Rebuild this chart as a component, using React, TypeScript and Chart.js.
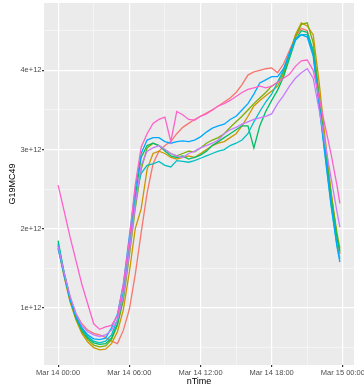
import { useEffect, useRef } from "react";
import { Chart, registerables } from "chart.js";
Chart.register(...registerables);

// time of day in hours since Mar 14 00:00
const hours = [0,0.5,1,1.5,2,2.5,3,3.5,4,4.5,5,5.5,6,6.5,7,7.5,8,8.5,9,9.5,10,10.5,11,11.5,12,12.5,13,13.5,14,14.5,15,15.5,16,16.5,17,17.5,18,18.5,19,19.5,20,20.5,21,21.5,22,22.5,23,23.5,23.75];

// values in units of 1e12
const s1 = [1.78,1.45,1.15,0.93,0.80,0.72,0.68,0.66,0.63,0.58,0.55, 0.72,0.98,1.42,1.95,2.45,2.82, 2.98,3.05,3.10,3.20,3.28,3.33,3.38,3.42, 3.46,3.50,3.55,3.60,3.65,3.72,3.82,3.94,3.98,4.00,4.02,4.03, 3.97,4.08,4.25,4.42,4.53,4.50,4.22,3.62,3.02,2.42,1.90,1.68];
const s2 = [1.76,1.40,1.08,0.85,0.68,0.57,0.50,0.47,0.48,0.55,0.70, 0.98,1.45,2.00,2.25,2.75,2.95, 2.98,2.95,2.90,2.88,2.90,2.92,2.90,2.95, 3.00,3.05,3.08,3.10,3.15,3.20,3.30,3.42,3.55,3.62,3.68,3.74, 3.80,3.95,4.20,4.45,4.60,4.56,4.45,3.85,3.15,2.48,1.90,1.70];
const s3 = [1.80,1.42,1.10,0.87,0.70,0.60,0.53,0.51,0.52,0.60,0.78, 1.10,1.65,2.25,2.75,3.02,3.08, 3.05,3.00,2.95,2.92,2.95,2.98,2.97,3.02, 3.08,3.12,3.15,3.20,3.28,3.35,3.42,3.50,3.58,3.65,3.72,3.80, 3.85,3.98,4.20,4.42,4.58,4.60,4.35,3.70,3.05,2.45,1.95,1.75];
const s4 = [1.85,1.45,1.12,0.88,0.72,0.62,0.56,0.54,0.55,0.62,0.80, 1.15,1.75,2.40,2.90,3.05,3.08, 3.05,2.98,2.92,2.90,2.92,2.88,2.90,2.93, 2.98,3.05,3.10,3.15,3.20,3.25,3.30,3.30,3.02,3.30,3.48,3.62, 3.75,3.92,4.15,4.38,4.50,4.48,4.25,3.62,3.00,2.38,1.88,1.72];
const s5 = [1.82,1.44,1.12,0.90,0.74,0.64,0.58,0.56,0.58,0.66,0.85, 1.20,1.80,2.40,2.70,2.80,2.82, 2.85,2.80,2.78,2.86,2.85,2.84,2.86,2.89, 2.92,2.95,2.98,3.00,3.05,3.08,3.12,3.20,3.35,3.48,3.60,3.70, 3.85,4.00,4.20,4.38,4.45,4.45,4.22,3.58,2.95,2.32,1.80,1.62];
const s6 = [1.75,1.42,1.12,0.90,0.75,0.66,0.61,0.60,0.62,0.75,0.92, 1.30,1.90,2.50,2.95,3.12,3.15, 3.15,3.10,3.08,3.10,3.11,3.10,3.12,3.16, 3.22,3.27,3.30,3.32,3.38,3.42,3.50,3.58,3.70,3.84,3.88,3.92, 3.92,4.02,4.22,4.40,4.45,4.42,4.18,3.55,2.92,2.30,1.78,1.58];
const s7 = [1.78,1.45,1.15,0.93,0.78,0.70,0.66,0.64,0.66,0.72,0.85, 1.15,1.70,2.30,2.80,2.98,3.02, 3.05,3.00,2.95,2.92,2.90,2.95,2.98,3.02, 3.05,3.08,3.12,3.20,3.25,3.28,3.32,3.35,3.38,3.40,3.42,3.45, 3.58,3.68,3.80,3.90,3.97,4.02,3.90,3.50,3.08,2.65,2.22,2.02];
const s8 = [2.55,2.23,1.90,1.60,1.30,1.05,0.80,0.73,0.76,0.78,0.90, 1.30,1.85,2.55,3.03,3.20,3.33, 3.38,3.41,3.10,3.48,3.44,3.38,3.37,3.42, 3.45,3.50,3.55,3.58,3.62,3.67,3.72,3.76,3.78,3.80,3.78,3.80, 3.85,3.90,3.95,4.05,4.12,4.13,4.00,3.65,3.30,2.95,2.55,2.32];

const seriesValues = [s1, s2, s3, s4, s5, s6, s7, s8];
const seriesColors = ["#F8766D", "#CD9600", "#7CAE00", "#00BE67", "#00BFC4", "#00A9FF", "#C77CFF", "#FF61CC"];

const xGridHours = [0, 3, 6, 9, 12, 15, 18, 21, 24];
const xTickHours = [0, 6, 12, 18, 24];
const xTickLabels = ["Mar 14 00:00", "Mar 14 06:00", "Mar 14 12:00", "Mar 14 18:00", "Mar 15 00:00"];
const yGridValues = [0.5, 1, 1.5, 2, 2.5, 3, 3.5, 4, 4.5];
const yTickValues = [1, 2, 3, 4];
const yTickLabels = ["1e+12", "2e+12", "3e+12", "4e+12"];

const FONT = "'Liberation Sans', Arial, sans-serif";

const panelBg = {
  id: "panelBg",
  beforeDraw(chart: any) {
    const { ctx, chartArea } = chart;
    ctx.save();
    ctx.fillStyle = "#EBEBEB";
    ctx.fillRect(chartArea.left, chartArea.top, chartArea.right - chartArea.left, chartArea.bottom - chartArea.top);
    ctx.restore();
  },
};

export default function App() {
  const ref = useRef<HTMLCanvasElement>(null);
  useEffect(() => {
    document.body.style.margin = "0";
    const datasets = seriesValues
      .map((vals, i) => ({
        data: hours.map((h, j) => ({ x: h, y: vals[j] })),
        borderColor: seriesColors[i],
        borderWidth: 1.3,
        pointRadius: 0,
        fill: false,
        tension: 0,
      }))
      .reverse();
    const isMajorX = (v: number) => xTickHours.includes(v);
    const isMajorY = (v: number) => yTickValues.includes(v);
    const chart = new Chart(ref.current!, {
      type: "line",
      data: { datasets },
      plugins: [panelBg],
      options: {
        animation: false,
        responsive: false,
        devicePixelRatio: 1,
        layout: { padding: { top: 3, right: 10, left: 0, bottom: 0 } },
        plugins: { legend: { display: false }, tooltip: { enabled: false } },
        scales: {
          x: {
            type: "linear",
            min: -1.19,
            max: 24.94,
            afterBuildTicks: (s: any) => { s.ticks = xGridHours.map((v) => ({ value: v })); },
            afterFit: (s: any) => { s.height = 24; s.paddingLeft = 0; s.paddingRight = 0; },
            border: { display: false },
            grid: {
              color: (c: any) => (isMajorX(c.tick?.value) ? "#FFFFFF" : "rgba(255,255,255,0.75)"),
              lineWidth: (c: any) => (isMajorX(c.tick?.value) ? 1.2 : 0.6),
              tickColor: (c: any) => (isMajorX(c.tick?.value) ? "#333333" : "rgba(0,0,0,0)"),
              tickLength: 2,
              drawTicks: true,
            },
            ticks: {
              autoSkip: false,
              maxRotation: 0,
              minRotation: 0,
              padding: 1,
              color: "#4D4D4D",
              font: { family: FONT, size: 7.5 },
              callback: (v: any) => {
                const k = xTickHours.indexOf(Number(v));
                return k >= 0 ? xTickLabels[k] : "";
              },
            },
            title: { display: true, text: "nTime", color: "#000000", font: { family: FONT, size: 9 }, padding: { top: 0, bottom: 1.6 } },
          },
          y: {
            type: "linear",
            min: 0.28,
            max: 4.85,
            afterBuildTicks: (s: any) => { s.ticks = yGridValues.map((v) => ({ value: v })); },
            afterFit: (s: any) => { s.width = 44; s.paddingTop = 0; s.paddingBottom = 0; },
            border: { display: false },
            grid: {
              color: (c: any) => (isMajorY(c.tick?.value) ? "#FFFFFF" : "rgba(255,255,255,0.75)"),
              lineWidth: (c: any) => (isMajorY(c.tick?.value) ? 1.2 : 0.6),
              tickColor: (c: any) => (isMajorY(c.tick?.value) ? "#333333" : "rgba(0,0,0,0)"),
              tickLength: 2,
              drawTicks: true,
            },
            ticks: {
              autoSkip: false,
              padding: 0.5,
              color: "#4D4D4D",
              font: { family: FONT, size: 7.5 },
              callback: (v: any) => {
                const k = yTickValues.indexOf(Number(v));
                return k >= 0 ? yTickLabels[k] : "";
              },
            },
            title: { display: true, text: "G19MC49", color: "#000000", font: { family: FONT, size: 9 }, padding: { top: 7.6, bottom: 0 } },
          },
        },
      } as any,
    });
    return () => chart.destroy();
  }, []);
  return (
    <div style={{ width: 364, height: 389 }}>
      <canvas ref={ref} width={364} height={389} style={{ display: "block" }} />
    </div>
  );
}
